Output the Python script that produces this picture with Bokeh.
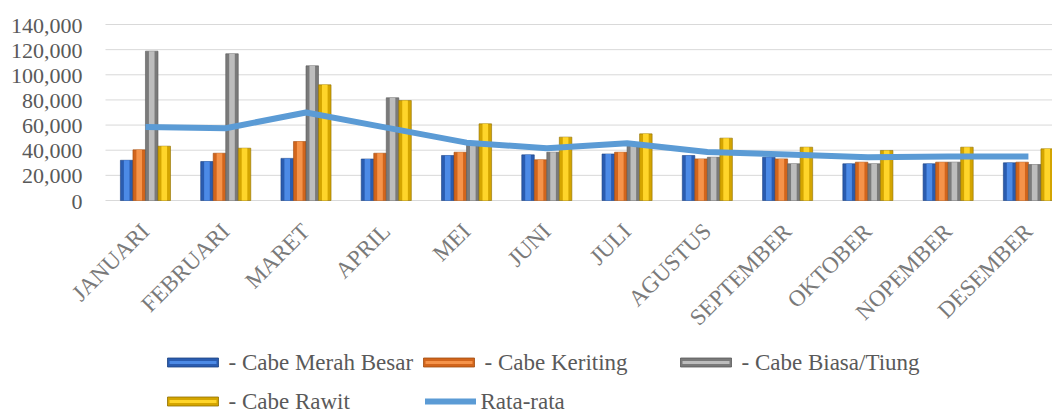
import numpy as np
from bokeh.plotting import figure
from bokeh.models import Range1d, ColumnDataSource
from bokeh.core.properties import value
from bokeh.embed import file_html
from bokeh.resources import INLINE

months = ["JANUARI", "FEBRUARI", "MARET", "APRIL", "MEI", "JUNI", "JULI",
          "AGUSTUS", "SEPTEMBER", "OKTOBER", "NOPEMBER", "DESEMBER"]
merah_besar = [32000, 31000, 33500, 33000, 35800, 36300, 37000, 35800, 34400, 29200, 29200, 30000]
keriting = [40300, 37600, 46900, 37600, 38400, 32400, 38400, 33100, 33100, 30500, 30500, 30500]
biasa_tiung = [118800, 116700, 107100, 81700, 46000, 38400, 46000, 34400, 29200, 29200, 30500, 28600]
rawit = [43200, 41600, 92000, 79500, 61000, 50400, 53000, 49600, 42400, 39800, 42400, 41100]
rata_rata = [58500, 57500, 70000, 58000, 46000, 41500, 45500, 38500, 36600, 34400, 35000, 35000]
y_ticks = [0, 20000, 40000, 60000, 80000, 100000, 120000, 140000]

series_names = ["- Cabe Merah Besar", "- Cabe Keriting", "- Cabe Biasa/Tiung", "- Cabe  Rawit"]
line_name = "Rata-rata"

FONT = "Liberation Serif"
W, H = 1052, 414

# The frame covers the whole canvas so that rotated labels and legend are not clipped.
# Plot area (value axis) runs from category -0.498 to the right edge.
PLOT_X0 = -0.498
X_START, X_END = -1.806, 11.30
Y_TOP, Y_BOTTOM = 159091, -170227


def px2x(px):
    return X_START + px * (X_END - X_START) / W


def px2y(py):
    return Y_TOP - py * (Y_TOP - Y_BOTTOM) / H


p = figure(width=W, height=H, output_backend="svg", toolbar_location=None,
           x_range=Range1d(X_START, X_END), y_range=Range1d(Y_BOTTOM, Y_TOP),
           x_axis_location=None, y_axis_location=None,
           min_border_left=0, min_border_right=0, min_border_top=0, min_border_bottom=0)
p.outline_line_color = None
p.background_fill_color = "white"
p.border_fill_color = "white"
p.xgrid.grid_line_color = None
p.ygrid.grid_line_color = None

# horizontal gridlines and value labels, from the tick list
grid_src = ColumnDataSource(dict(x0=[PLOT_X0] * len(y_ticks), x1=[X_END] * len(y_ticks),
                                 y=y_ticks, text=[f"{t:,}" for t in y_ticks]))
p.segment(x0="x0", x1="x1", y0="y", y1="y", source=grid_src,
          line_color="#D9D9D9", line_width=1)
p.text(x="x0", y="y", text="text", source=grid_src, text_align="right",
       text_baseline="middle", x_offset=-23, y_offset=1,
       text_font=value(FONT), text_font_size=value("22px"), text_color="#595959")

xs = np.arange(len(months))
bar_w = 0.156
offsets = [-1.5 * bar_w, -0.5 * bar_w, 0.5 * bar_w, 1.5 * bar_w]
data = [merah_besar, keriting, biasa_tiung, rawit]
base_cols = ["#2A5CB0", "#D2651C", "#7A7A7A", "#D4A500"]
mid_cols = ["#4C8AE6", "#F5934A", "#BDBDBD", "#FFD52A"]
edge_cols = ["#1C4282", "#A04C10", "#595959", "#8F6E00"]
line_col = "#5B9BD5"

for vals, off, bc, mc, ec in zip(data, offsets, base_cols, mid_cols, edge_cols):
    src = ColumnDataSource(dict(x=xs + off, top=vals))
    p.vbar(x="x", top="top", width=bar_w, bottom=0, source=src,
           fill_color=bc, line_color=ec, line_width=0.6)
    p.vbar(x="x", top="top", width=bar_w * 0.45, bottom=0, source=src,
           fill_color=mc, line_color=None)

line_src = ColumnDataSource(dict(x=xs, y=rata_rata))
p.line(x="x", y="y", source=line_src, line_color=line_col, line_width=6,
       line_join="round", line_cap="butt")

# category labels (rotated 45 degrees)
lab_src = ColumnDataSource(dict(x=xs, y=[0] * len(months), text=months))
p.text(x="x", y="y", text="text", source=lab_src, angle=np.pi / 4,
       text_align="right", text_baseline="middle", x_offset=0, y_offset=27,
       text_font=value(FONT), text_font_size=value("23px"), text_color="#7A7A7A")

# legend (two rows, fixed columns), laid out in pixels
leg_left_px = [167, 423, 680, 167]
leg_row_px = [362, 362, 362, 401]
sw_src = ColumnDataSource(dict(
    x=[px2x(c + 25.5) for c in leg_left_px], y=[px2y(r) for r in leg_row_px],
    fill=base_cols, mid=mid_cols, edge=edge_cols))
p.rect(x="x", y="y", width=51, height=9, width_units="screen", height_units="screen",
       source=sw_src, fill_color="fill", line_color="edge", line_width=0.8)
p.rect(x="x", y="y", width=47, height=3, width_units="screen", height_units="screen",
       source=sw_src, fill_color="mid", line_color=None)
p.rect(x=[px2x(425 + 25)], y=[px2y(401)], width=51, height=6,
       width_units="screen", height_units="screen", fill_color=line_col, line_color=None)

txt_src = ColumnDataSource(dict(
    x=[px2x(c + 61) for c in leg_left_px] + [px2x(480)],
    y=[px2y(r) for r in leg_row_px] + [px2y(401)],
    text=series_names + [line_name]))
p.text(x="x", y="y", text="text", source=txt_src, text_align="left",
       text_baseline="middle", text_font=value(FONT), text_font_size=value("23px"),
       text_color="#595959")

open("out.html", "w").write(file_html(p, INLINE))
